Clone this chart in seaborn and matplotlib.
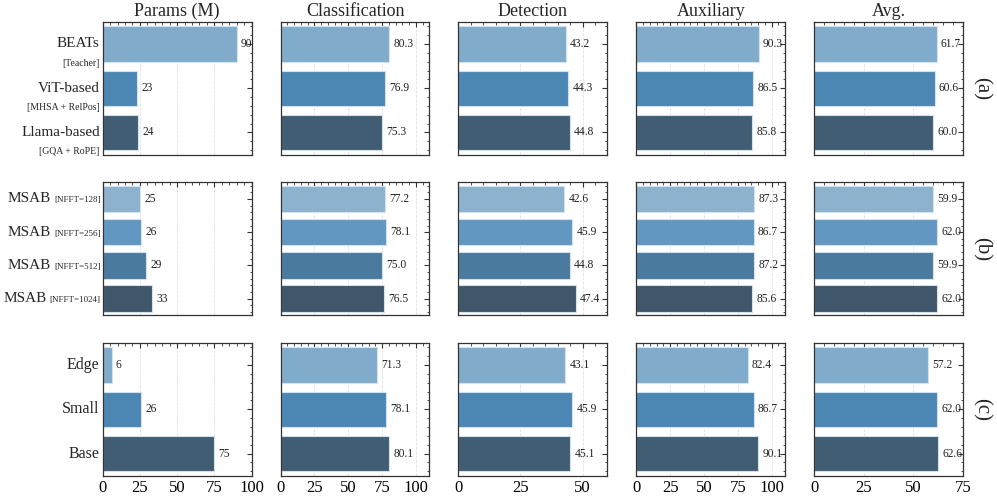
import numpy as np
import pandas as pd
import seaborn as sns
import matplotlib.pyplot as plt
import matplotlib.transforms as mtransforms
from matplotlib.ticker import AutoMinorLocator, MultipleLocator
from matplotlib.offsetbox import TextArea, HPacker, AnnotationBbox

# ---- data ----
metrics = ["Params (M)", "Classification", "Detection", "Auxiliary", "Avg."]

names_a = ["BEATs", "ViT-based", "Llama-based"]
notes_a = ["[Teacher]", "[MHSA + RelPos]", "[GQA + RoPE]"]
params_a = [90, 23, 24]
cls_a = [80.3, 76.9, 75.3]
det_a = [43.2, 44.3, 44.8]
aux_a = [90.3, 86.5, 85.8]
avg_a = [61.7, 60.6, 60.0]

names_b = ["MSAB", "MSAB", "MSAB", "MSAB"]
notes_b = ["[NFFT=128]", "[NFFT=256]", "[NFFT=512]", "[NFFT=1024]"]
params_b = [25, 26, 29, 33]
cls_b = [77.2, 78.1, 75.0, 76.5]
det_b = [42.6, 45.9, 44.8, 47.4]
aux_b = [87.3, 86.7, 87.2, 85.6]
avg_b = [59.9, 62.0, 59.9, 62.0]

names_c = ["Edge", "Small", "Base"]
params_c = [6, 26, 75]
cls_c = [71.3, 78.1, 80.1]
det_c = [43.1, 45.9, 45.1]
aux_c = [82.4, 86.7, 90.1]
avg_c = [57.2, 62.0, 62.6]

row_tags = ["(a)", "(b)", "(c)"]

# styling
xlims = [100, 110, 60, 110, 75]
pal3 = ["#7ca8c9", "#4682b1", "#3b586e"]
pal4 = ["#88b0cc", "#5d94bf", "#44769b", "#3a5066"]

sns.set_style("white")
plt.rcParams['font.family'] = ['Liberation Serif', 'DejaVu Serif']

rows = [
    (names_a, notes_a, [params_a, cls_a, det_a, aux_a, avg_a], pal3, "below"),
    (names_b, notes_b, [params_b, cls_b, det_b, aux_b, avg_b], pal4, "inline"),
    (names_c, None, [params_c, cls_c, det_c, aux_c, avg_c], pal3, None),
]

fig, axes = plt.subplots(3, 5, figsize=(9.97, 4.97), dpi=100)
fig.subplots_adjust(left=0.103, right=0.966, top=0.956, bottom=0.043,
                    wspace=0.195, hspace=0.21)

for r, (names, notes, vals, pal, note_mode) in enumerate(rows):
    labels = [f"{n}_{i}" for i, n in enumerate(names)]
    for c in range(5):
        ax = axes[r, c]
        df = pd.DataFrame({"label": labels, "value": vals[c]})
        sns.barplot(data=df, x="value", y="label", hue="label", palette=pal,
                    legend=False, ax=ax, width=0.8, saturation=1, alpha=0.97,
                    edgecolor="#d4e3ef", linewidth=0.8, zorder=2)
        ax.set_xlim(0, xlims[c])
        ax.set_ylim(len(names) - 0.5, -0.5)
        ax.set_xlabel("")
        ax.set_ylabel("")
        ax.xaxis.set_major_locator(MultipleLocator(25))
        ax.xaxis.set_minor_locator(AutoMinorLocator(5))
        ax.yaxis.set_minor_locator(AutoMinorLocator(5))
        ax.tick_params(which="both", direction="in", top=True, right=True,
                       colors="#333333", labelcolor="black")
        ax.tick_params(which="major", length=3.5, width=0.8)
        ax.tick_params(which="minor", length=1.8, width=0.6)
        ax.tick_params(axis="x", labelsize=12, pad=3)
        ax.grid(axis="x", which="major", color="#e2e2e2", ls="--", lw=0.6, zorder=0)
        ax.set_axisbelow(True)
        for s in ax.spines.values():
            s.set_color("#333333")
            s.set_linewidth(0.9)
        if r < 2:
            ax.set_xticklabels([])
        if r == 0:
            ax.set_title(metrics[c], fontsize=13, pad=4)
        ax.set_yticklabels([])

        # value labels at bar ends
        for i, v in enumerate(vals[c]):
            txt = f"{v:d}" if c == 0 else f"{v:.1f}"
            ax.annotate(txt, (v, i), xytext=(3, 0), textcoords="offset points",
                        ha="left", va="center", fontsize=8.3, color="#222222")

        if c == 0:
            trans = mtransforms.blended_transform_factory(ax.transAxes, ax.transData)
            for i, n in enumerate(names):
                if note_mode == "below":
                    ax.text(-0.02, i, n, ha="right", va="center", fontsize=11,
                            transform=trans)
                    ax.text(-0.02, i + 0.44, notes[i], ha="right", va="center",
                            fontsize=7, transform=trans)
                elif note_mode == "inline":
                    box = HPacker(children=[TextArea(n, textprops=dict(fontsize=11)),
                                            TextArea(notes[i], textprops=dict(fontsize=6.5))],
                                  align="baseline", pad=0, sep=2)
                    ab = AnnotationBbox(box, (-0.015, i), xycoords=trans,
                                        box_alignment=(1, 0.5), frameon=False,
                                        pad=0, annotation_clip=False)
                    ax.add_artist(ab)
                else:
                    ax.text(-0.02, i, n, ha="right", va="center", fontsize=11.5,
                            transform=trans)
        if c == 4:
            ax.text(1.12, 0.5, row_tags[r], transform=ax.transAxes, rotation=270,
                    ha="center", va="center", fontsize=15)

fig.savefig("out.png", dpi=100)
